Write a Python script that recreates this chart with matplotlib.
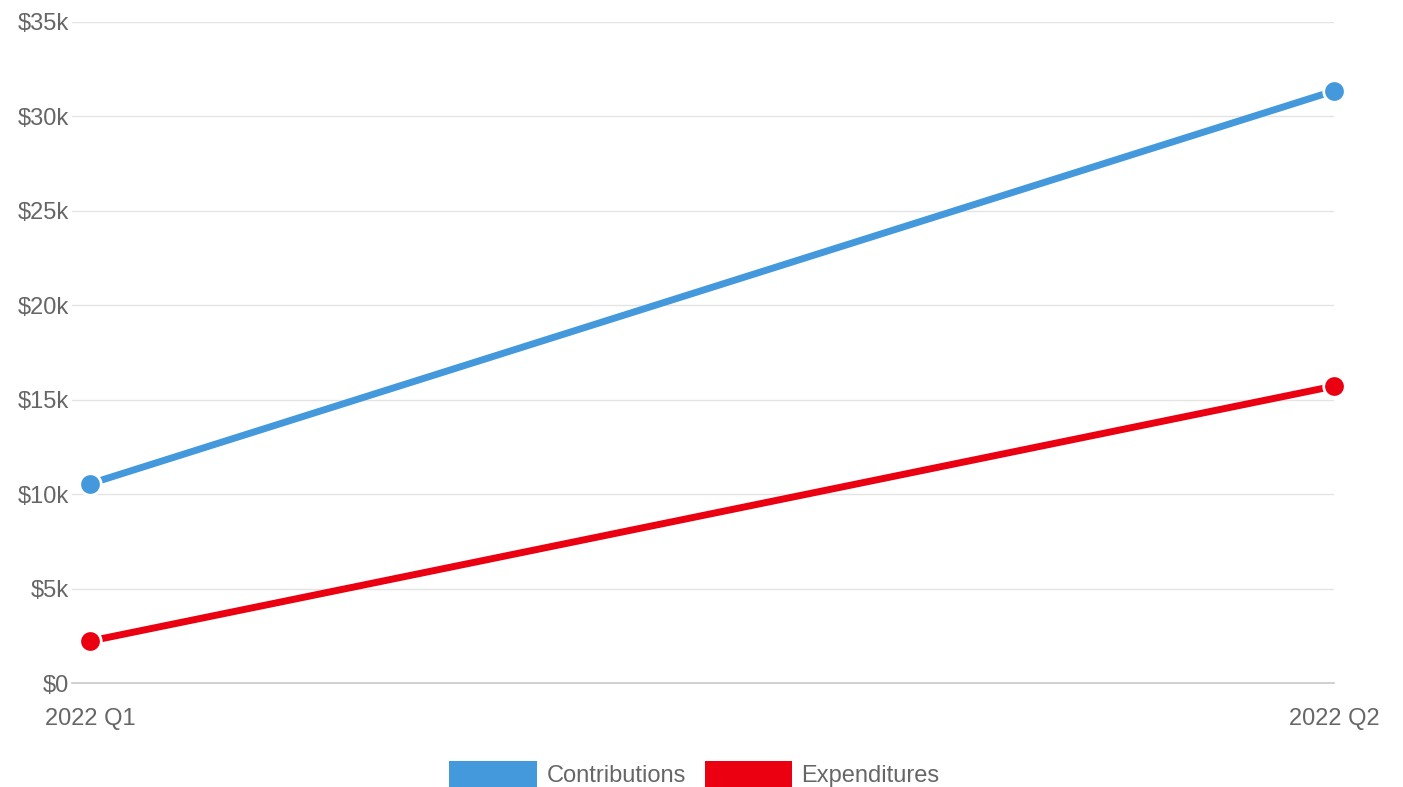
import matplotlib
matplotlib.use("Agg")
import matplotlib.pyplot as plt
from matplotlib.patches import Patch

plt.rcParams['font.family'] = ['Liberation Sans', 'DejaVu Sans']

quarters = ["2022 Q1", "2022 Q2"]
contributions = [10550, 31350]
expenditures = [2220, 15720]
y_ticks = [0, 5000, 10000, 15000, 20000, 25000, 30000, 35000]
y_tick_labels = ["$0", "$5k", "$10k", "$15k", "$20k", "$25k", "$30k", "$35k"]

W, H = 1403, 787
fig = plt.figure(figsize=(W / 100, H / 100), dpi=100)
left, right, top, bottom = 72, 1334, 22, 683
ax = fig.add_axes([left / W, (H - bottom) / H, (right - left) / W, (bottom - top) / H])

blue = '#4499dd'
red = '#ea0010'
x = list(range(len(quarters)))
for vals, col in [(contributions, blue), (expenditures, red)]:
    ax.plot(x, vals, color=col, lw=5.0, marker='o', markersize=15.5,
            markerfacecolor=col, markeredgecolor='white', markeredgewidth=2.0,
            clip_on=False, zorder=3, solid_capstyle='butt')

ax.set_ylim(0, 35000)
ax.set_xlim(-18 / (right - left - 18), 1.0)
ax.set_yticks(y_ticks)
ax.set_yticklabels(y_tick_labels)
ax.set_xticks(x)
ax.set_xticklabels(quarters)

ax.grid(axis='y', color='#e4e4e4', lw=1.0)
ax.grid(axis='x', visible=False)
ax.set_axisbelow(True)
for s in ['top', 'right', 'left']:
    ax.spines[s].set_visible(False)
ax.spines['bottom'].set_color('#c8c8c8')
ax.spines['bottom'].set_linewidth(1.2)
ax.tick_params(axis='y', length=0, pad=2, labelsize=17, labelcolor='#666666')
ax.tick_params(axis='x', length=0, pad=18, labelsize=17, labelcolor='#666666')

handles = [Patch(facecolor=blue, edgecolor='none', label='Contributions'),
           Patch(facecolor=red, edgecolor='none', label='Expenditures')]
leg = fig.legend(handles=handles, loc='lower center', bbox_to_anchor=(0.495, -0.012),
                 ncol=2, frameon=False, fontsize=17, handlelength=3.7,
                 handleheight=1.3, handletextpad=0.4, columnspacing=0.8,
                 borderaxespad=0)
for t in leg.get_texts():
    t.set_color('#666666')

fig.savefig('out.png', dpi=100, facecolor='white')
